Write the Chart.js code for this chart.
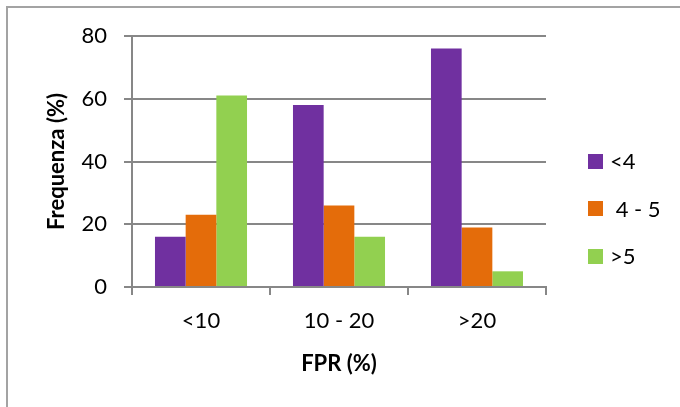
<!DOCTYPE html>
<html>
<head>
<meta charset="utf-8">
<script src="https://cdn.jsdelivr.net/npm/chart.js@4.4.1/dist/chart.umd.min.js"></script>
<style>
  html, body { margin: 0; padding: 0; background: #fff; overflow: hidden; width: 680px; height: 407px; }
  #frame { position: absolute; left: 6px; top: 6px; width: 680px; height: 410px;
           border-left: 2px solid #a3a3a3; border-top: 2px solid #a3a3a3; }
  #wrap { position: absolute; left: 0; top: 0; width: 680px; height: 407px; }
</style>
</head>
<body>
<div id="frame"></div>
<div id="wrap"><canvas id="chart" width="680" height="407"></canvas></div>
<script>
// FPR classes on the x axis
const categories = ['<10', '10 - 20', '>20'];
// series names
const seriesLabels = ['<4', ' 4 - 5', '>5'];
// frequency (%) per FPR class
const under4 = [16, 58, 76];
const from4to5 = [23, 26, 19];
const over5 = [61, 16, 5];
// y axis ticks
const yTicks = [0, 20, 40, 60, 80];

const seriesColors = ['#7030A0', '#E46C0A', '#92D050'];
const gridColor = '#878787';
const fontFamily = 'Lato, "Open Sans", sans-serif';

// legend drawn to the right of the plot, one row per dataset
const sideLegend = {
  id: 'sideLegend',
  afterDraw(chart, args, opts) {
    const ctx = chart.ctx;
    ctx.save();
    ctx.font = opts.font;
    ctx.textBaseline = 'middle';
    ctx.textAlign = 'left';
    chart.data.datasets.forEach((ds, i) => {
      const cy = opts.top + i * opts.spacing;
      ctx.fillStyle = ds.backgroundColor;
      ctx.fillRect(opts.x, Math.round(cy - opts.box / 2), opts.box, opts.box);
      ctx.fillStyle = opts.color;
      ctx.fillText(ds.label, opts.x + opts.box + opts.gap, cy + 1);
    });
    ctx.restore();
  }
};

const datasets = [under4, from4to5, over5].map((values, i) => ({
  label: seriesLabels[i],
  data: values,
  backgroundColor: seriesColors[i],
  borderWidth: 0,
  categoryPercentage: 0.667,
  barPercentage: 1.0
}));

new Chart(document.getElementById('chart'), {
  type: 'bar',
  data: { labels: categories, datasets },
  plugins: [sideLegend],
  options: {
    responsive: false,
    devicePixelRatio: 1,
    animation: false,
    layout: { padding: { top: 36, right: 134, left: 0, bottom: 0 } },
    plugins: {
      legend: { display: false },
      tooltip: { enabled: false },
      sideLegend: {
        x: 588, top: 161, spacing: 47.5, box: 15, gap: 7,
        font: '22px ' + fontFamily, color: '#000'
      }
    },
    scales: {
      x: {
        grid: {
          offset: true, drawOnChartArea: false, drawTicks: true,
          tickLength: 8, color: gridColor, lineWidth: 2
        },
        border: { display: true, color: gridColor, width: 2 },
        ticks: { color: '#000', font: { family: fontFamily, size: 22 }, padding: 13 },
        title: {
          display: true, text: 'FPR (%)', color: '#000',
          font: { family: fontFamily, size: 22, weight: 'bold' },
          padding: { top: 4, bottom: 30 }
        },
        afterFit(scale) { scale.height = 120; }
      },
      y: {
        min: yTicks[0],
        max: yTicks[yTicks.length - 1],
        afterBuildTicks(scale) { scale.ticks = yTicks.map(v => ({ value: v })); },
        grid: { color: gridColor, lineWidth: 2, tickLength: 8, drawTicks: true },
        border: { display: true, color: gridColor, width: 2 },
        ticks: { color: '#000', font: { family: fontFamily, size: 22 }, padding: 17 },
        title: {
          display: true, text: 'Frequenza (%)', color: '#000',
          font: { family: fontFamily, size: 22, weight: 'bold' },
          padding: { top: 44, bottom: 0 }
        },
        afterFit(scale) { scale.width = 132; }
      }
    }
  }
});
</script>
</body>
</html>
